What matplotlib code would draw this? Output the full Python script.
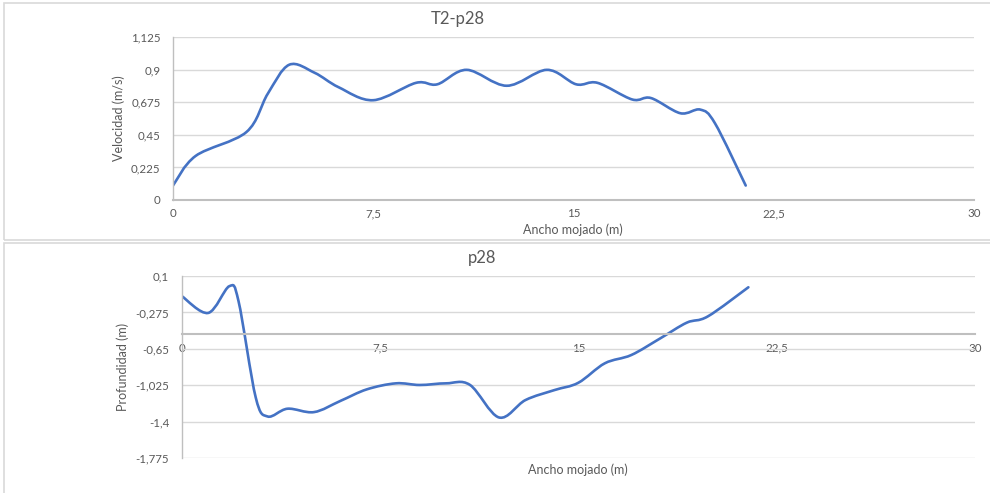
import numpy as np
import matplotlib.pyplot as plt
from matplotlib.path import Path
from matplotlib.patches import PathPatch, Rectangle

# -------------------------------------------------------------------
# Data
# -------------------------------------------------------------------
vel_x = [0.0, 0.85, 2.75, 3.55, 4.35, 5.3, 6.2, 7.5, 9.1, 9.9, 11.0, 12.5,
         14.0, 15.1, 15.9, 17.2, 17.9, 19.0, 19.75, 20.3, 21.45]
vel_y = [0.10, 0.305, 0.47, 0.735, 0.935, 0.88, 0.78, 0.69, 0.81, 0.80, 0.90, 0.79,
         0.90, 0.80, 0.81, 0.695, 0.705, 0.60, 0.625, 0.53, 0.10]

prof_x = [0.0, 1.0, 1.8, 2.15, 2.8, 3.25, 4.0, 5.0, 6.0, 7.0, 8.1, 9.0, 10.0, 10.9,
          12.0, 13.0, 14.1, 15.0, 16.0, 17.0, 18.1, 19.1, 19.9, 21.43]
prof_y = [-0.106, -0.28, -0.005, -0.16, -1.15, -1.345, -1.265, -1.30, -1.185, -1.066,
          -1.004, -1.021, -1.004, -1.02, -1.355, -1.176, -1.073, -0.998, -0.798, -0.713,
          -0.541, -0.38, -0.315, -0.016]

x_ticks = [0, 7.5, 15, 22.5, 30]
x_labels = ["0", "7,5", "15", "22,5", "30"]
vel_ticks = [0, 0.225, 0.45, 0.675, 0.9, 1.125]
vel_labels = ["0", "0,225", "0,45", "0,675", "0,9", "1,125"]
prof_ticks = [0.1, -0.275, -0.65, -1.025, -1.4, -1.775]
prof_labels = ["0,1", "-0,275", "-0,65", "-1,025", "-1,4", "-1,775"]

LINE = "#4472C4"
GRID = "#D9D9D9"
AXIS = "#BFBFBF"
TEXT = "#595959"
FONT = ["Lato", "DejaVu Sans"]

plt.rcParams["font.family"] = FONT


def smooth_path(xs, ys):
    """Excel-style smoothed line as a cubic Bezier path (data coords)."""
    pts = np.column_stack([xs, ys])
    n = len(pts)
    verts = [pts[0]]
    codes = [Path.MOVETO]
    for i in range(n - 1):
        p0 = pts[i - 1] if i > 0 else pts[i]
        p1, p2 = pts[i], pts[i + 1]
        p3 = pts[i + 2] if i + 2 < n else pts[i + 1]
        c1 = p1 + (p2 - p0) / 6.0
        c2 = p2 - (p3 - p1) / 6.0
        verts += [c1, c2, p2]
        codes += [Path.CURVE4] * 3
    return Path(verts, codes)


def style_axes(ax, yticks, ylabels):
    ax.set_xlim(0, 30)
    ax.set_xticks(x_ticks)
    ax.set_xticklabels(x_labels)
    ax.set_yticks(yticks)
    ax.set_yticklabels(ylabels)
    ax.grid(axis="y", color=GRID, linewidth=1.0)
    ax.set_axisbelow(True)
    for side in ["top", "right"]:
        ax.spines[side].set_visible(False)
    ax.spines["left"].set_color(AXIS)
    ax.spines["left"].set_linewidth(1.0)
    ax.spines["bottom"].set_color(AXIS)
    ax.spines["bottom"].set_linewidth(1.5)
    ax.tick_params(axis="both", length=0, labelsize=8.3, labelcolor=TEXT)
    ax.tick_params(axis="x", pad=6)
    ax.tick_params(axis="y", pad=9)


fig = plt.figure(figsize=(9.9, 4.93), dpi=100)
W, H = 990.0, 493.0

# chart borders
for (x0, y0, x1, y1) in [(4, 3, 1000, 240), (4, 243, 1000, 520)]:
    fig.patches.append(Rectangle((x0 / W, 1 - y1 / H), (x1 - x0) / W, (y1 - y0) / H,
                                 transform=fig.transFigure, fill=False,
                                 edgecolor=GRID, linewidth=1.2))

# top panel: velocity
ax1 = fig.add_axes([173 / W, 1 - 200 / H, 801 / W, (200 - 37.3) / H])
ax1.set_ylim(0, 1.125)
style_axes(ax1, vel_ticks, vel_labels)
ax1.add_patch(PathPatch(smooth_path(vel_x, vel_y), fill=False, edgecolor=LINE,
                        linewidth=1.9, capstyle="round", joinstyle="round"))

# bottom panel: depth profile
ax2 = fig.add_axes([181.7 / W, 1 - 458.3 / H, (975 - 181.7) / W, (458.3 - 276) / H])
ax2.set_ylim(-1.775, 0.1)
style_axes(ax2, prof_ticks, prof_labels)
ax2.spines["bottom"].set_position(("data", -0.5))
ax2.add_patch(PathPatch(smooth_path(prof_x, prof_y), fill=False, edgecolor=LINE,
                        linewidth=1.9, capstyle="round", joinstyle="round"))

# titles and axis labels
fig.text(458 / W, 1 - 19 / H, "T2-p28", ha="center", va="center", fontsize=12, color=TEXT)
fig.text(482 / W, 1 - 258 / H, "p28", ha="center", va="center", fontsize=12, color=TEXT)
fig.text(573 / W, 1 - 230 / H, "Ancho mojado (m)", ha="center", va="center",
         fontsize=9, color=TEXT)
fig.text(578 / W, 1 - 470 / H, "Ancho mojado (m)", ha="center", va="center",
         fontsize=9, color=TEXT)
fig.text(119 / W, 1 - 118.5 / H, "Velocidad (m/s)", ha="center", va="center",
         rotation=90, fontsize=9, color=TEXT)
fig.text(123 / W, 1 - 367 / H, "Profundidad (m)", ha="center", va="center",
         rotation=90, fontsize=9, color=TEXT)

fig.savefig("out.png", dpi=100)
